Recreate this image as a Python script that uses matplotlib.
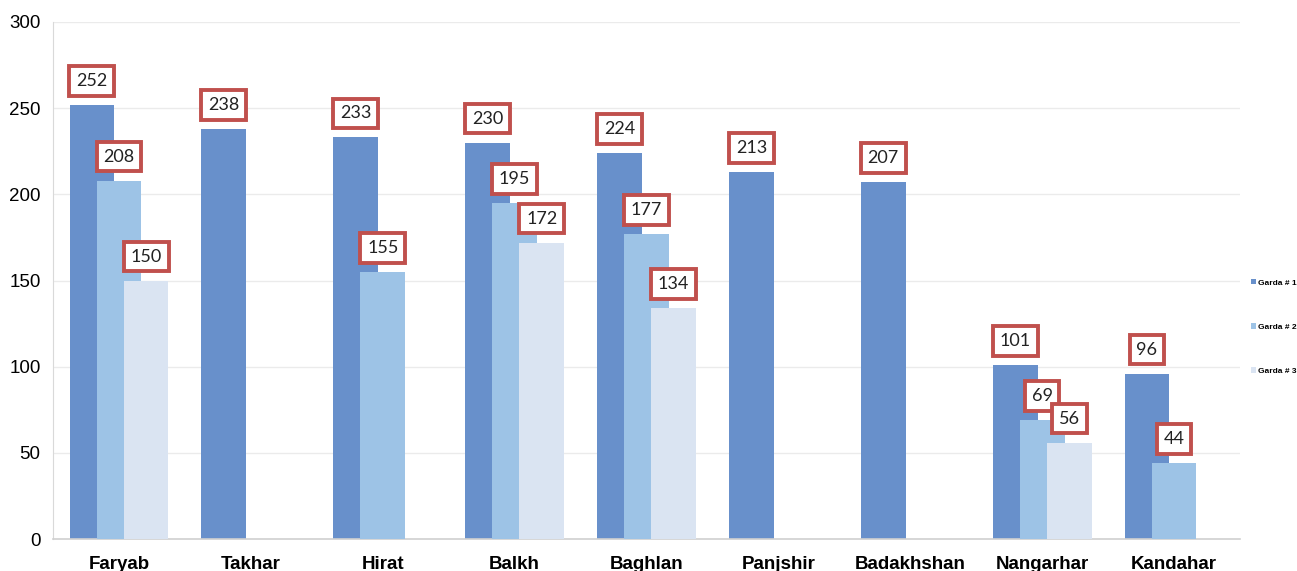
import numpy as np
import matplotlib.pyplot as plt

provinces = ["Faryab", "Takhar", "Hirat", "Balkh", "Baghlan", "Panjshir",
             "Badakhshan", "Nangarhar", "Kandahar"]
garda_1 = [252, 238, 233, 230, 224, 213, 207, 101, 96]
garda_2 = [208, None, 155, 195, 177, None, None, 69, 44]
garda_3 = [150, None, None, 172, 134, None, None, 56, None]

series = [("Garda # 1", garda_1, "#6890CB"),
          ("Garda # 2", garda_2, "#9DC3E6"),
          ("Garda # 3", garda_3, "#DAE4F2")]

plt.rcParams["font.family"] = ["Liberation Sans", "DejaVu Sans"]

fig = plt.figure(figsize=(12.97, 5.71), dpi=100)
ax = fig.add_axes([0.0409, 0.056, 0.9151, 0.9055])

x = np.arange(len(provinces))
width = 0.34
offsets = [-0.205, 0.0, 0.205]

for k, (name, vals, color) in enumerate(series):
    xs = [xi + offsets[k] for xi, v in zip(x, vals) if v is not None]
    ys = [v for v in vals if v is not None]
    ax.bar(xs, ys, width=width, color=color, label=name, zorder=2 + k)
    for xi, v in zip(xs, ys):
        ax.annotate(str(v), (xi, v), xytext=(0, 24), textcoords="offset pixels",
                    ha="center", va="center", fontsize=13, family="Lato",
                    color="#222222", zorder=10,
                    bbox=dict(boxstyle="square,pad=0.38", fc="white",
                              ec="#C0504D", lw=2.8))

ax.set_xlim(-0.5, len(provinces) - 0.5)
ax.set_ylim(0, 300)
ax.set_yticks(range(0, 301, 50))
ax.set_xticks(x)
ax.set_xticklabels(provinces, fontsize=13.5, fontweight="bold")
ax.tick_params(axis="x", length=0, pad=12)
ax.tick_params(axis="y", length=0, labelsize=13.5, pad=9)
ax.yaxis.grid(True, color="#EBEBEB", lw=1, zorder=0)
ax.set_axisbelow(True)
for s in ["top", "right"]:
    ax.spines[s].set_visible(False)
ax.spines["left"].set_color("#D9D9D9")
ax.spines["bottom"].set_color("#D0D0D0")
ax.spines["bottom"].set_linewidth(1.2)

ax.legend(loc="center left", bbox_to_anchor=(1.003, 0.41), frameon=False,
          handlelength=0.6, handleheight=0.6, handletextpad=0.2,
          labelspacing=4.4, prop=dict(size=6, weight="bold"))

fig.savefig("out.png", dpi=100)
